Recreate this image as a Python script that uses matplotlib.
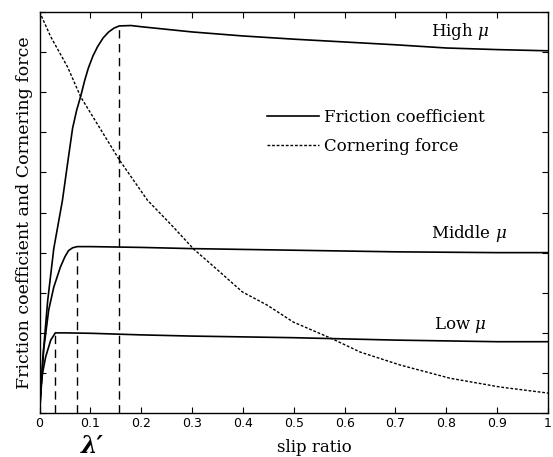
import matplotlib
matplotlib.use("Agg")
import matplotlib.pyplot as plt

# ----------------------------------
# data
# ----------------------------------

high_x = [0, 0.006, 0.016, 0.028, 0.045, 0.056, 0.065, 0.073, 0.081, 0.089,
          0.096, 0.105, 0.114, 0.125, 0.136, 0.147, 0.157, 0.18, 0.2, 0.3,
          0.4, 0.5, 0.6, 0.7, 0.8, 0.9, 1.0]
high_y = [0, 0.13, 0.28, 0.41, 0.53, 0.63, 0.71, 0.755, 0.79, 0.83,
          0.86, 0.89, 0.913, 0.935, 0.95, 0.96, 0.965, 0.966, 0.963, 0.95,
          0.94, 0.932, 0.925, 0.918, 0.91, 0.906, 0.903]

mid_x = [0, 0.004, 0.008, 0.018, 0.028, 0.041, 0.05, 0.057, 0.065, 0.074,
         0.1, 0.2, 0.3, 0.4, 0.5, 0.6, 0.7, 0.8, 0.9, 1.0]
mid_y = [0, 0.075, 0.157, 0.257, 0.314, 0.364, 0.39, 0.405, 0.412, 0.415,
         0.415, 0.413, 0.41, 0.408, 0.406, 0.404, 0.402, 0.401, 0.40, 0.40]

low_x = [0, 0.002, 0.006, 0.012, 0.022, 0.031, 0.05, 0.1, 0.2, 0.3,
         0.4, 0.5, 0.6, 0.7, 0.8, 0.9, 1.0]
low_y = [0, 0.057, 0.10, 0.14, 0.182, 0.2, 0.2, 0.199, 0.195, 0.192,
         0.19, 0.188, 0.185, 0.182, 0.18, 0.178, 0.178]

corner_x = [0, 0.022, 0.055, 0.081, 0.157, 0.212, 0.263, 0.303, 0.35,
            0.399, 0.448, 0.499, 0.576, 0.631, 0.709, 0.807, 0.906, 1.0]
corner_y = [1.0, 0.938, 0.863, 0.788, 0.631, 0.531, 0.464, 0.409, 0.357,
            0.302, 0.269, 0.227, 0.185, 0.152, 0.12, 0.087, 0.065, 0.05]

# peak slip ratio (lambda') of each road
peak_x = [0.031, 0.074, 0.157]
peak_y = [0.2, 0.415, 0.965]

road_labels = [r"High $\mu$", r"Middle $\mu$", r"Low $\mu$"]
label_x = [0.77, 0.77, 0.775]
label_y = [0.95, 0.448, 0.22]

x_ticks = [0, 0.1, 0.2, 0.3, 0.4, 0.5, 0.6, 0.7, 0.8, 0.9, 1.0]
x_tick_labels = ["0", "0.1", "0.2", "0.3", "0.4", "0.5", "0.6", "0.7", "0.8", "0.9", "1"]
y_ticks = [0, 0.1, 0.2, 0.3, 0.4, 0.5, 0.6, 0.7, 0.8, 0.9, 1.0]

# ----------------------------------
# figure
# ----------------------------------

plt.rcParams["font.family"] = "DejaVu Serif"
plt.rcParams["mathtext.fontset"] = "dejavuserif"

fig = plt.figure(figsize=(5.53, 4.57), dpi=100)
ax = fig.add_axes([0.0715, 0.096, 0.9195, 0.878])

ax.plot(high_x, high_y, color="black", lw=1.2, label="Friction coefficient")
ax.plot(mid_x, mid_y, color="black", lw=1.2)
ax.plot(low_x, low_y, color="black", lw=1.2)
ax.plot(corner_x, corner_y, color="black", lw=1.0,
        linestyle=(0, (2, 1.3)), label="Cornering force")

ax.vlines(peak_x, 0, peak_y, colors="black", lw=1.0, linestyles=(0, (6, 4)))

for txt, tx, ty in zip(road_labels, label_x, label_y):
    ax.text(tx, ty, txt, fontsize=12, va="center", ha="left")

ax.legend(loc="upper left", bbox_to_anchor=(0.448, 0.758), frameon=False,
          fontsize=12, handlelength=3.1, handletextpad=0.3,
          labelspacing=0.7, borderaxespad=0, borderpad=0)

# ----------------------------------
# axes
# ----------------------------------

ax.set_xlim(0, 1)
ax.set_ylim(0, 1)
ax.set_xticks(x_ticks)
ax.set_xticklabels(x_tick_labels, family="DejaVu Sans", fontsize=9)
ax.set_yticks(y_ticks)
ax.set_yticklabels([])
ax.tick_params(direction="in", length=4, top=True, right=True, pad=3)

for s in ax.spines.values():
    s.set_linewidth(1.0)

ax.set_ylabel("Friction coefficient and Cornering force", fontsize=12.5, labelpad=2)
ax.text(0.54, -0.085, "slip ratio", transform=ax.transAxes,
        fontsize=12, ha="center", va="center")
ax.text(0.103, -0.082, "λ′", transform=ax.transAxes,
        fontsize=17, fontweight="bold", fontstyle="italic",
        ha="center", va="center")

fig.savefig("out.png", dpi=100)
